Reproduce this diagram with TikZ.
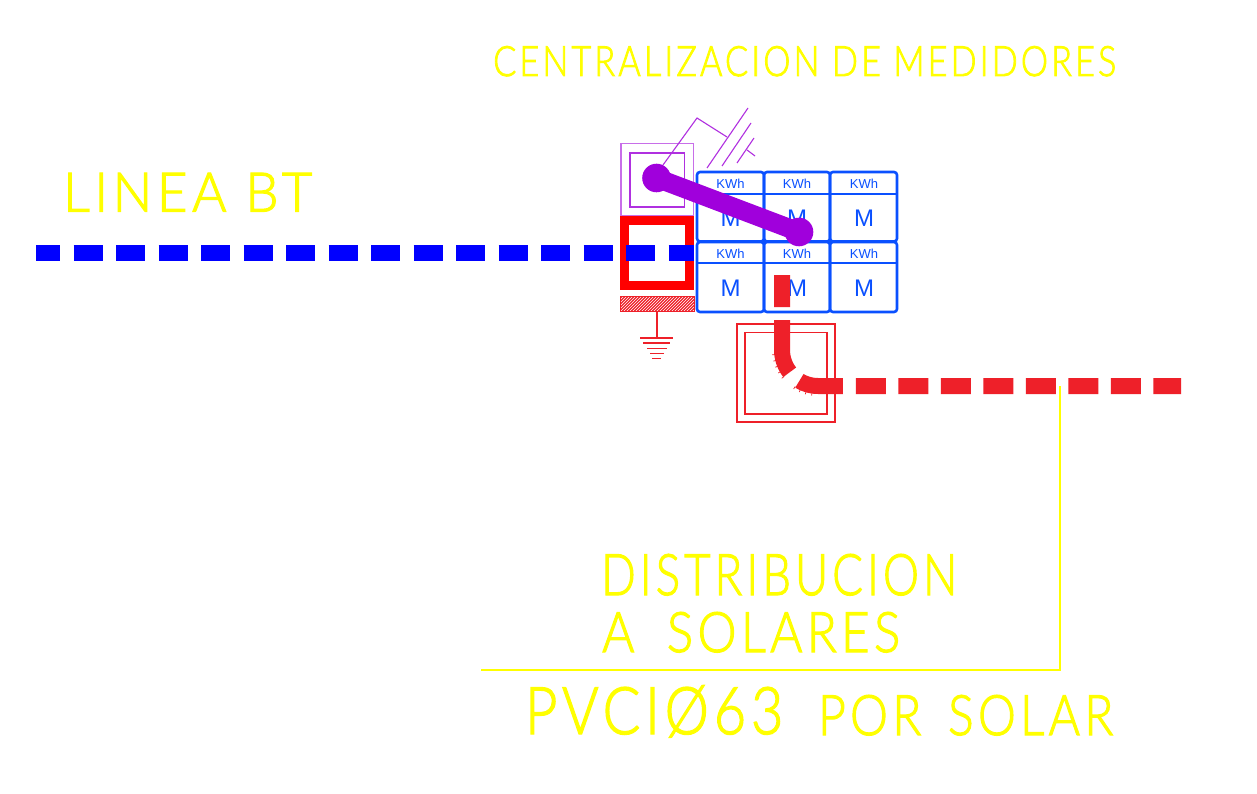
\documentclass[tikz,border=0pt]{standalone}
\usepackage{fontspec}
\usepackage{graphicx}
\setmainfont[UprightFont={* Light},UprightFeatures={FakeBold=2.2},LetterSpace=9]{Lato}
\newfontfamily\metfont{Liberation Sans}
\usetikzlibrary{patterns}
\definecolor{cadyellow}{HTML}{FFFF00}
\definecolor{cadblue}{HTML}{0000FF}
\definecolor{metblue}{HTML}{0A50FF}
\definecolor{cadred}{HTML}{FF0000}
\definecolor{softred}{HTML}{EE2029}
\definecolor{cadpurple}{HTML}{A000DC}
\definecolor{thinpurple}{HTML}{B030E0}
\newcommand{\captext}[3]{\resizebox{#1pt}{#2pt}{\smash{#3}\rule{0pt}{0.7165em}}}
\tikzset{
  x=1pt,y=-1pt,
  cadtext/.style={inner sep=0pt,text=cadyellow,anchor=west},
  leader/.style={draw=cadyellow,line width=1.6pt},
  cell/.style={draw=metblue,line width=2.6pt,rounded corners=3pt},
  sep/.style={draw=metblue,line width=1.5pt},
  kwh/.style={inner sep=0pt,text=metblue,font=\metfont\fontsize{13}{14}\selectfont},
  mlet/.style={inner sep=0pt,text=metblue,font=\metfont\fontsize{24}{25}\selectfont},
  thinp/.style={draw=thinpurple,line width=1.1pt},
  redbox/.style={draw=softred,line width=1.6pt},
  gnd/.style={draw=softred,line width=1.8pt},
}
\begin{document}
\begin{tikzpicture}
\useasboundingbox (0,0) rectangle (1257,794);
\fill[white] (0,0) rectangle (1257,794);
% texts
\node[cadtext] (t1) at (493,61) {\captext{623}{30}{CENTRALIZACION DE MEDIDORES}};
\node[cadtext] (t2) at (63,192) {\captext{249}{39}{LINEA BT}};
\node[cadtext] (t3) at (601,574.5) {\captext{356}{41}{DISTRIBUCION}};
\node[cadtext] (t4) at (602,632) {\captext{298}{40}{A\hspace{0.3em} SOLARES}};
\node[cadtext] (t5) at (525,710.5) {\captext{258}{47}{PVCIØ63}};
\node[cadtext] (t6) at (818,715) {\captext{295}{40}{POR\hspace{0.2em} SOLAR}};
% leader
\coordinate (ldA) at (481,670);
\coordinate (ldB) at (1060,670);
\coordinate (ldC) at (1060,386);
\draw[leader] (ldA) -- (ldB) -- (ldC);
% meters
\foreach \xa/\xb/\xc in {697/764/730.5,764/830/797,830/897/864}{
  \draw[cell] (\xa,172) rectangle (\xb,241.5);
  \draw[cell] (\xa,242) rectangle (\xb,312);
  \draw[sep] (\xa,194) -- (\xb,194);
  \draw[sep] (\xa,263) -- (\xb,263);
  \node[kwh] at (\xc,183.5) {KWh};
  \node[kwh] at (\xc,253.5) {KWh};
  \node[mlet] at (\xc,218.5) {M};
  \node[mlet] at (\xc,288.5) {M};
}
\foreach \px in {764,830}{\fill[metblue] (\px,241.5) circle (2.6);}
% purple thin
\draw[thinp,draw=thinpurple!70] (621,143.7) rectangle (693.7,216);
\draw[thinp] (630,153) rectangle (684.5,207);
\draw[thinp] (663,165) -- (697,118) -- (727,137);
\draw[thinp] (707,168) -- (748,108);
\draw[thinp] (722,166) -- (751,123);
\draw[thinp] (737,163) -- (754,138);
\draw[thinp] (747,150) -- (755,156);
% red box
\draw[cadred,line width=9pt] (624.5,220.5) rectangle (689.5,285);
\fill[softred] (620,296) rectangle (694,311);
\fill[pattern=north east lines,pattern color=white] (620,296) rectangle (694,311);
\draw[softred,line width=1pt] (620,296) rectangle (694,311);
\coordinate (gndtop) at (657,311);
\coordinate (gndbot) at (657,338);
\draw[gnd] (gndtop) -- (gndbot);
\draw[gnd] (640,338) -- (673,338);
\draw[gnd] (643,343) -- (670,343);
\draw[gnd] (647,348.5) -- (667,348.5);
\draw[gnd] (650,353.5) -- (664,353.5);
\draw[gnd] (652,358.5) -- (661,358.5);
% blue line
\coordinate (btA) at (36,253);
\coordinate (btB) at (694,253);
\draw[cadblue,line width=16pt,dash pattern=on 29pt off 13.5pt,dash phase=5pt] (btA) -- (btB);
% red conduit
\draw[redbox] (737,324) rectangle (835,422);
\draw[redbox] (745,332.5) rectangle (827,414);
\coordinate (solA) at (782,275);
\coordinate (solB) at (1181,386);
\draw[softred,line width=16pt,dash pattern=on 32pt off 13pt on 54pt off 13pt on 44.5pt off 13pt on 30pt off 12.5pt on 30pt off 12.5pt on 30pt off 12.5pt on 30pt off 12.5pt on 30pt off 12.5pt on 30pt off 12.5pt on 30pt off 12.5pt on 30pt off 12.5pt]
  (solA) -- (782,350) .. controls (782,369.9) and (798.1,386) .. (818,386) -- (solB);
\foreach \t in {6,14,22,30,38,58,66,74,82}{
  \draw[softred,line width=.7pt] ({818-43*cos(\t)},{350+43*sin(\t)}) -- ({818-46*cos(\t)},{350+46*sin(\t)});
}
% purple thick
\coordinate (pA) at (656.5,178);
\coordinate (pB) at (799,232);
\draw[cadpurple,line width=19pt] (pA) -- (pB);
\fill[cadpurple] (pA) circle (14.3);
\fill[cadpurple] (pB) circle (14.3);
\end{tikzpicture}
\end{document}
